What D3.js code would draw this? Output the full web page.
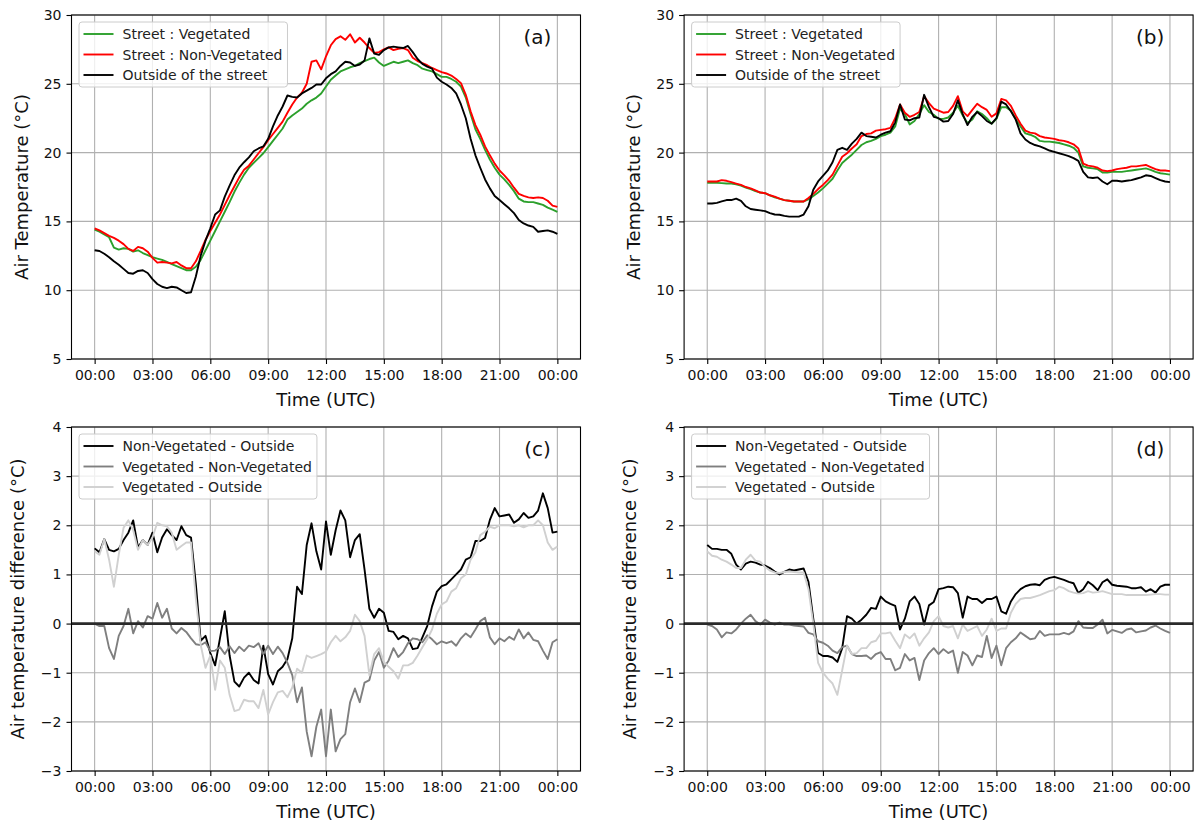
<!DOCTYPE html>
<html>
<head>
<meta charset="utf-8">
<script src="https://cdn.jsdelivr.net/npm/d3@7"></script>
<style>
body { margin: 0; background: #fff; }
svg { font-family: "DejaVu Sans", sans-serif; }
</style>
</head>
<body>
<script>
// values every 15 minutes, 00:00 -> 00:00 next day (97 samples)
const step = 0.25;
const tickHours = [0, 3, 6, 9, 12, 15, 18, 21, 24];
const tickLabels = ["00:00", "03:00", "06:00", "09:00", "12:00", "15:00", "18:00", "21:00", "00:00"];
const tempTicks = [5, 10, 15, 20, 25, 30];
const diffTicks = [-3, -2, -1, 0, 1, 2, 3, 4];

// (a) air temperature, first day
const vegA = [14.4,14.25,14.05,13.85,13.1,12.95,13.05,13.0,12.8,12.9,
  12.7,12.55,12.4,12.3,12.2,12.05,11.9,11.75,11.6,11.45,
  11.45,11.7,12.2,12.9,13.6,14.3,15.0,15.7,16.4,17.15,
  17.8,18.4,18.9,19.25,19.6,19.95,20.4,20.85,21.3,21.75,
  22.4,22.7,22.95,23.2,23.55,23.8,24.0,24.3,24.8,25.3,
  25.6,25.9,26.05,26.2,26.3,26.5,26.65,26.8,26.9,26.55,
  26.3,26.45,26.6,26.5,26.6,26.7,26.5,26.35,26.1,26.0,
  25.9,25.7,25.5,25.5,25.35,25.15,24.8,24.0,22.8,21.7,
  21.0,20.2,19.5,18.9,18.4,18.05,17.65,17.2,16.65,16.45,
  16.4,16.4,16.3,16.2,16.0,15.85,15.7];
const nonVegA = [14.5,14.35,14.15,13.95,13.8,13.6,13.35,13.0,12.85,13.15,
  13.05,12.8,12.35,12.0,12.05,12.0,11.95,12.05,11.8,11.6,
  11.6,12.1,12.85,13.65,14.3,14.9,15.5,16.2,16.9,17.55,
  18.2,18.75,19.05,19.5,19.95,20.4,20.9,21.35,21.8,22.25,
  22.9,23.5,24.0,24.35,25.0,26.6,26.7,26.05,27.0,27.8,
  28.25,28.45,28.2,28.6,28.0,28.35,28.0,27.6,27.25,27.3,
  27.5,27.65,27.45,27.55,27.6,27.45,26.9,26.65,26.5,26.35,
  26.15,26.0,25.85,25.75,25.6,25.35,25.05,24.2,23.0,22.0,
  21.3,20.45,19.8,19.2,18.7,18.35,17.95,17.45,17.0,16.85,
  16.75,16.7,16.75,16.7,16.5,16.15,16.05];
const outA = [12.9,12.85,12.65,12.4,12.1,11.85,11.55,11.25,11.2,11.4,
  11.45,11.25,10.8,10.45,10.25,10.15,10.25,10.2,10.0,9.8,
  9.85,11.0,12.5,13.6,14.5,15.5,15.8,16.8,17.6,18.35,
  18.9,19.3,19.65,20.1,20.3,20.45,21.0,21.9,22.7,23.35,
  24.15,24.05,24.0,24.3,24.5,24.7,24.95,24.95,25.4,25.7,
  25.9,26.3,26.6,26.55,26.3,26.4,26.7,28.3,27.2,27.1,
  27.45,27.65,27.7,27.65,27.6,27.75,27.3,26.8,26.45,26.25,
  26.1,25.45,25.15,24.95,24.7,24.3,23.5,22.5,21.0,19.8,
  18.9,18.05,17.4,16.85,16.55,16.25,15.95,15.6,15.1,14.85,
  14.7,14.6,14.25,14.3,14.35,14.25,14.1];

// (b) air temperature, second day
const vegB = [17.8,17.8,17.8,17.78,17.75,17.75,17.7,17.6,17.45,17.35,
  17.2,17.1,17.05,16.9,16.75,16.65,16.55,16.5,16.45,16.45,
  16.45,16.6,16.85,17.1,17.4,17.75,18.1,18.7,19.25,19.55,
  19.85,20.2,20.55,20.75,20.85,21.0,21.2,21.3,21.45,21.9,
  23.2,22.8,22.05,22.3,22.8,23.45,22.95,22.75,22.45,22.45,
  22.55,22.9,23.4,22.7,22.15,22.4,23.0,22.8,22.5,22.1,
  22.45,23.3,23.3,23.05,22.45,21.9,21.4,21.3,21.15,20.85,
  20.8,20.8,20.75,20.7,20.6,20.5,20.35,20.0,19.0,18.9,
  18.85,18.8,18.55,18.55,18.6,18.6,18.6,18.65,18.7,18.75,
  18.8,18.85,18.75,18.6,18.5,18.45,18.4];
const nonVegB = [17.9,17.9,17.9,18.0,17.95,17.85,17.75,17.65,17.5,17.4,
  17.25,17.1,17.05,16.9,16.8,16.65,16.55,16.5,16.45,16.45,
  16.45,16.7,17.0,17.35,17.65,18.0,18.4,19.05,19.7,19.95,
  20.3,20.6,21.2,21.35,21.4,21.6,21.65,21.7,21.8,22.5,
  23.5,22.9,22.6,22.75,22.95,24.1,23.6,23.2,23.05,22.9,
  22.95,23.4,24.1,23.0,22.65,23.1,23.55,23.3,23.1,22.6,
  22.85,23.9,23.8,23.4,22.7,22.1,21.6,21.45,21.4,21.2,
  21.1,21.05,21.0,20.9,20.85,20.75,20.6,20.3,19.2,19.05,
  19.0,18.9,18.7,18.65,18.7,18.8,18.85,18.9,19.0,19.0,
  19.05,19.1,18.95,18.8,18.7,18.7,18.65];
const outB = [16.3,16.3,16.35,16.45,16.55,16.55,16.65,16.5,16.1,15.9,
  15.85,15.8,15.75,15.6,15.5,15.48,15.4,15.35,15.35,15.35,
  15.5,16.1,17.3,17.9,18.3,18.7,19.3,20.2,20.35,20.2,
  20.65,21.0,21.45,21.2,21.15,21.1,21.3,21.45,21.55,22.2,
  23.5,22.4,22.35,22.5,22.55,24.2,23.3,22.6,22.5,22.25,
  22.3,22.8,23.8,22.8,22.0,22.6,22.95,22.65,22.3,22.1,
  22.5,23.7,23.5,23.0,22.4,21.4,20.95,20.7,20.55,20.45,
  20.3,20.15,20.05,19.95,19.85,19.75,19.6,19.4,18.6,18.2,
  18.15,18.2,17.9,17.7,17.95,17.95,17.9,17.95,18.0,18.1,
  18.2,18.35,18.3,18.15,18.0,17.9,17.85];

// (c) temperature differences, first day
const nvOutC = [1.53,1.45,1.72,1.5,1.47,1.52,1.7,1.85,2.1,1.55,
  1.7,1.6,1.85,1.45,1.75,1.92,1.8,1.7,1.98,1.8,
  1.75,0.8,-0.35,-0.25,-0.6,-0.85,-0.3,0.25,-0.65,-1.18,
  -1.28,-1.1,-1.0,-1.15,-1.22,-0.45,-1.03,-1.24,-0.97,-0.88,
  -0.72,-0.3,0.75,0.6,1.6,2.04,1.47,1.1,2.08,1.4,
  1.9,2.3,2.1,1.35,1.7,1.82,1.1,0.3,0.12,0.3,
  0.22,-0.15,-0.17,-0.32,-0.25,-0.3,-0.52,-0.5,-0.28,-0.05,
  0.35,0.65,0.76,0.8,0.9,1.0,1.1,1.3,1.35,1.68,
  1.68,1.74,2.11,2.35,2.18,2.2,2.22,2.05,2.12,2.25,
  2.15,2.18,2.3,2.65,2.35,1.85,1.87];
const vegNvC = [0.0,-0.05,-0.05,-0.5,-0.72,-0.25,-0.05,0.3,-0.2,0.05,
  -0.08,0.15,0.1,0.42,0.12,0.3,-0.1,-0.2,-0.09,-0.17,
  -0.3,-0.42,-0.44,-0.38,-0.56,-0.55,-0.48,-0.62,-0.46,-0.6,
  -0.47,-0.56,-0.45,-0.48,-0.4,-0.62,-0.45,-0.62,-0.47,-0.6,
  -0.8,-1.05,-1.6,-1.3,-2.2,-2.7,-2.1,-1.75,-2.7,-1.75,
  -2.6,-2.35,-2.25,-1.6,-1.32,-1.6,-1.2,-1.15,-0.75,-0.58,
  -0.9,-0.75,-0.5,-0.68,-0.58,-0.4,-0.3,-0.32,-0.38,-0.24,
  -0.32,-0.42,-0.36,-0.4,-0.36,-0.45,-0.3,-0.2,-0.28,-0.12,
  0.05,0.12,-0.28,-0.42,-0.3,-0.36,-0.27,-0.33,-0.12,-0.3,
  -0.18,-0.33,-0.36,-0.55,-0.72,-0.38,-0.32];
const vegOutC = [1.47,1.4,1.72,1.3,0.75,1.4,1.95,2.1,1.9,1.5,
  1.7,1.6,1.75,2.05,2.0,1.98,1.85,1.5,1.58,1.65,
  1.65,0.5,-0.43,-0.9,-0.65,-1.35,-0.75,-0.9,-1.45,-1.78,
  -1.75,-1.55,-1.58,-1.58,-1.72,-1.35,-1.85,-1.6,-1.4,-1.37,
  -1.5,-1.3,-0.92,-1.0,-0.65,-0.7,-0.66,-0.62,-0.57,-0.38,
  -0.25,-0.36,-0.28,-0.15,0.18,0.05,-0.25,-1.05,-0.62,-0.5,
  -0.78,-0.88,-0.97,-1.12,-0.85,-0.85,-0.8,-0.65,-0.48,-0.32,
  -0.12,0.2,0.39,0.45,0.65,0.72,0.92,1.0,1.3,1.45,
  1.8,1.87,1.97,1.94,2.0,2.0,2.0,1.98,2.0,1.96,
  2.0,2.0,2.1,2.0,1.65,1.5,1.57];

// (d) temperature differences, second day
const nvOutD = [1.6,1.52,1.52,1.5,1.5,1.42,1.2,1.1,1.22,1.26,
  1.24,1.2,1.18,1.13,1.06,1.0,1.05,1.1,1.08,1.1,
  1.12,0.85,0.1,-0.6,-0.66,-0.66,-0.69,-0.78,-0.5,0.15,
  0.1,0.0,0.08,0.18,0.32,0.3,0.55,0.45,0.4,0.36,
  -0.12,0.1,0.45,0.55,0.4,-0.02,0.37,0.44,0.7,0.72,
  0.75,0.74,0.62,0.12,0.55,0.5,0.5,0.42,0.5,0.5,
  0.55,0.25,0.2,0.45,0.6,0.7,0.76,0.79,0.8,0.78,
  0.89,0.93,0.95,0.92,0.89,0.85,0.82,0.62,0.7,0.85,
  0.78,0.68,0.84,0.9,0.79,0.77,0.76,0.75,0.72,0.72,
  0.74,0.65,0.7,0.63,0.75,0.79,0.79];
const vegNvD = [-0.02,-0.05,-0.12,-0.28,-0.18,-0.2,-0.12,0.0,0.1,0.18,
  0.05,-0.02,0.08,0.02,-0.02,0.02,-0.02,-0.02,-0.04,-0.05,
  -0.06,-0.19,-0.22,-0.36,-0.39,-0.45,-0.55,-0.6,-0.48,-0.45,
  -0.62,-0.66,-0.66,-0.65,-0.72,-0.62,-0.58,-0.72,-0.72,-0.95,
  -0.9,-0.62,-0.75,-0.7,-1.15,-0.75,-0.6,-0.5,-0.62,-0.52,
  -0.6,-0.55,-1.0,-0.58,-0.65,-0.85,-0.65,-0.68,-0.25,-0.7,
  -0.45,-0.85,-0.5,-0.38,-0.3,-0.18,-0.25,-0.32,-0.3,-0.15,
  -0.25,-0.22,-0.22,-0.22,-0.19,-0.22,-0.16,0.05,-0.08,-0.09,
  -0.09,-0.02,0.08,-0.2,-0.13,-0.16,-0.19,-0.12,-0.1,-0.18,
  -0.16,-0.14,-0.08,-0.04,-0.1,-0.15,-0.19];
const vegOutD = [1.47,1.38,1.36,1.3,1.26,1.2,1.13,1.13,1.3,1.4,
  1.28,1.26,1.15,1.08,1.04,1.03,1.05,1.06,1.05,1.04,
  1.04,0.7,0.0,-0.8,-1.0,-1.12,-1.22,-1.45,-0.95,-0.45,
  -0.62,-0.6,-0.5,-0.5,-0.38,-0.35,-0.2,-0.2,-0.18,-0.35,
  -0.5,-0.22,-0.3,-0.2,-0.45,-0.3,-0.18,0.05,0.15,-0.05,
  -0.08,-0.05,-0.3,-0.02,-0.15,-0.1,-0.05,-0.25,-0.12,0.1,
  -0.15,-0.1,-0.1,0.22,0.4,0.5,0.52,0.52,0.55,0.58,
  0.62,0.66,0.68,0.75,0.72,0.66,0.63,0.61,0.62,0.66,
  0.63,0.64,0.66,0.63,0.6,0.6,0.6,0.58,0.58,0.58,
  0.58,0.58,0.59,0.6,0.6,0.59,0.59];

const W = 509, H = 344;

const svg = d3.select("body").append("svg")
  .attr("width", 1197)
  .attr("height", 823);
svg.append("rect").attr("width", 1197).attr("height", 823).attr("fill", "#fff");

const tempSeries = (v, n, o) => [
  { name: "Street : Vegetated", color: "#2ca02c", values: v },
  { name: "Street : Non-Vegetated", color: "#ff0000", values: n },
  { name: "Outside of the street", color: "#000000", values: o }
];
const diffSeries = (a, b, c) => [
  { name: "Non-Vegetated - Outside", color: "#000000", values: a },
  { name: "Vegetated - Non-Vegetated", color: "#7f7f7f", values: b },
  { name: "Vegetated - Outside", color: "#d0d0d0", values: c }
];

const panels = [
  { tag: "(a)", left: 71.5, top: 15, yDomain: [5, 30], yTicks: tempTicks,
    yLabel: "Air Temperature (°C)", labelX: -44, series: tempSeries(vegA, nonVegA, outA) },
  { tag: "(b)", left: 684.1, top: 15, yDomain: [5, 30], yTicks: tempTicks,
    yLabel: "Air Temperature (°C)", labelX: -44, series: tempSeries(vegB, nonVegB, outB) },
  { tag: "(c)", left: 71.5, top: 427, yDomain: [-3, 4], yTicks: diffTicks, zero: true,
    yLabel: "Air temperature difference (°C)", labelX: -48, series: diffSeries(nvOutC, vegNvC, vegOutC) },
  { tag: "(d)", left: 684.1, top: 427, yDomain: [-3, 4], yTicks: diffTicks, zero: true,
    yLabel: "Air temperature difference (°C)", labelX: -48, series: diffSeries(nvOutD, vegNvD, vegOutD) }
];

function drawPanel(p) {
  const g = svg.append("g").attr("transform", `translate(${p.left},${p.top})`);
  const x = d3.scaleLinear().domain([-1.2, 25.2]).range([0, W]);
  const y = d3.scaleLinear().domain(p.yDomain).range([H, 0]);

  // grid
  g.append("g").selectAll("line").data(tickHours).join("line")
    .attr("x1", d => x(d)).attr("x2", d => x(d))
    .attr("y1", 0).attr("y2", H)
    .attr("stroke", "#b0b0b0").attr("stroke-width", 1.1);
  g.append("g").selectAll("line").data(p.yTicks).join("line")
    .attr("x1", 0).attr("x2", W)
    .attr("y1", d => y(d)).attr("y2", d => y(d))
    .attr("stroke", "#b0b0b0").attr("stroke-width", 1.1);

  // series
  const line = d3.line()
    .x((d, i) => x(i * step))
    .y(d => y(d));
  p.series.forEach(s => {
    g.append("path")
      .datum(s.values)
      .attr("d", line)
      .attr("fill", "none")
      .attr("stroke", s.color)
      .attr("stroke-width", 1.9)
      .attr("stroke-linejoin", "round");
  });

  if (p.zero) {
    g.append("line")
      .attr("x1", 0).attr("x2", W)
      .attr("y1", y(0)).attr("y2", y(0))
      .attr("stroke", "#2a2a2a").attr("stroke-width", 2.8);
  }

  // axes
  const xAxis = d3.axisBottom(x)
    .tickValues(tickHours)
    .tickFormat((d, i) => tickLabels[i])
    .tickSize(5).tickSizeOuter(0).tickPadding(6);
  const yAxis = d3.axisLeft(y)
    .tickValues(p.yTicks)
    .tickFormat(d3.format("d"))
    .tickSize(5).tickSizeOuter(0).tickPadding(5);

  const gx = g.append("g").attr("transform", `translate(0,${H})`).call(xAxis);
  const gy = g.append("g").call(yAxis);
  [gx, gy].forEach(a => {
    a.attr("font-size", 14).attr("font-family", "DejaVu Sans, sans-serif");
    a.select(".domain").remove();
    a.selectAll(".tick line").attr("stroke", "#000").attr("stroke-width", 1.1);
    a.selectAll(".tick text").attr("fill", "#111");
  });

  g.append("rect")
    .attr("width", W).attr("height", H)
    .attr("fill", "none")
    .attr("stroke", "#000").attr("stroke-width", 1.1);

  // labels
  g.append("text")
    .attr("x", W / 2).attr("y", H + 47)
    .attr("text-anchor", "middle")
    .attr("font-size", 18).attr("fill", "#111")
    .text("Time (UTC)");
  g.append("text")
    .attr("transform", `translate(${p.labelX},${H / 2}) rotate(-90)`)
    .attr("text-anchor", "middle")
    .attr("font-size", 18).attr("fill", "#111")
    .text(p.yLabel);
  g.append("text")
    .attr("x", W - 43).attr("y", 29)
    .attr("text-anchor", "middle")
    .attr("font-size", 20).attr("fill", "#111")
    .text(p.tag);

  // legend
  const lg = g.append("g").attr("transform", "translate(7.5,7)");
  const box = lg.append("rect")
    .attr("height", 65)
    .attr("rx", 3)
    .attr("fill", "#fff").attr("fill-opacity", 0.8)
    .attr("stroke", "#cccccc").attr("stroke-width", 1);
  let maxW = 0;
  p.series.forEach((s, i) => {
    const cy = 12 + i * 20.5;
    lg.append("line")
      .attr("x1", 4.5).attr("x2", 34.5)
      .attr("y1", cy).attr("y2", cy)
      .attr("stroke", s.color).attr("stroke-width", 1.9);
    const t = lg.append("text")
      .attr("x", 43.5).attr("y", cy + 5)
      .attr("font-size", 14).attr("fill", "#222")
      .text(s.name);
    maxW = Math.max(maxW, t.node().getComputedTextLength());
  });
  box.attr("width", 43.5 + maxW + 5);
}

panels.forEach(drawPanel);
</script>
</body>
</html>
